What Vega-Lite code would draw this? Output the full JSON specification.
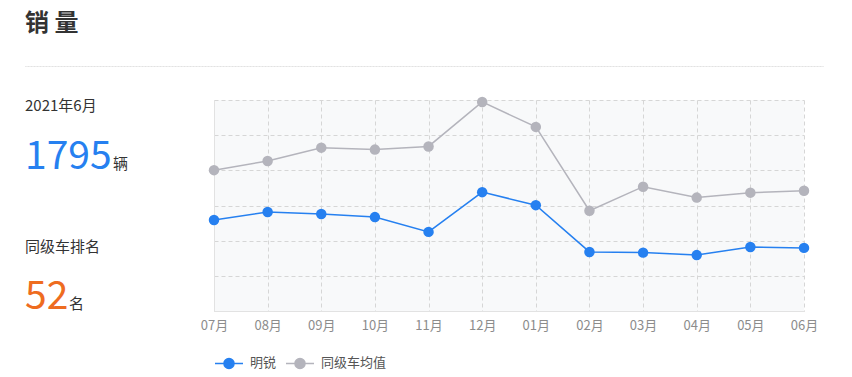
{
  "$schema": "https://vega.github.io/schema/vega-lite/v6.json",
  "padding": {"left": 24, "top": 11, "right": 20, "bottom": 4},
  "bounds": "flush",
  "spacing": 33,
  "config": {
    "font": "Noto Sans CJK SC",
    "view": {"stroke": null}
  },
  "vconcat": [
    {
      "title": {"text": "销 量", "anchor": "start", "frame": "group", "fontSize": 24, "fontWeight": "bold", "color": "#333333", "offset": 24, "font": "Noto Sans CJK SC"},
      "width": 798,
      "height": 0.01,
      "view": {"stroke": "#d8d8d8", "strokeDash": [1, 2]},
      "data": {"values": [{"t": ""}]},
      "mark": {"type": "text"},
      "encoding": {"text": {"field": "t"}}
    },
    {
      "bounds": "flush",
      "spacing": 39,
      "resolve": {"scale": {"color": "independent"}, "legend": {"color": "independent"}},
      "hconcat": [
        {
          "width": 150,
          "height": 211,
          "data": {"values": [
            {"row": "date", "kind": "label", "text": "2021年6月"},
            {"row": "sales", "kind": "salesNum", "text": "1795"},
            {"row": "sales", "kind": "salesUnit", "text": "辆"},
            {"row": "rankLabel", "kind": "label2", "text": "同级车排名"},
            {"row": "rank", "kind": "rankNum", "text": "52"},
            {"row": "rank", "kind": "rankUnit", "text": "名"}
          ]},
          "encoding": {
            "y": {"field": "row", "type": "nominal", "scale": {"type": "point", "padding": 0, "domain": ["date", "sales", "rankLabel", "rank"]}, "axis": null},
            "x": {"value": 0},
            "text": {"field": "text"}
          },
          "layer": [
            {"transform": [{"filter": "datum.kind === 'label'"}], "mark": {"type": "text", "align": "left", "baseline": "alphabetic", "fontSize": 15, "color": "#333333", "dy": 11}},
            {"transform": [{"filter": "datum.kind === 'label2'"}], "mark": {"type": "text", "align": "left", "baseline": "alphabetic", "fontSize": 15, "color": "#333333", "dy": 11}},
            {"transform": [{"filter": "datum.kind === 'salesNum'"}], "mark": {"type": "text", "align": "left", "baseline": "alphabetic", "fontSize": 39, "color": "#2680f0", "dy": -1}},
            {"transform": [{"filter": "datum.kind === 'salesUnit'"}], "mark": {"type": "text", "align": "left", "baseline": "alphabetic", "fontSize": 15, "color": "#333333", "dx": 88, "dy": -1}},
            {"transform": [{"filter": "datum.kind === 'rankNum'"}], "mark": {"type": "text", "align": "left", "baseline": "alphabetic", "fontSize": 39, "color": "#ee6c1f", "dy": -2}},
            {"transform": [{"filter": "datum.kind === 'rankUnit'"}], "mark": {"type": "text", "align": "left", "baseline": "alphabetic", "fontSize": 15, "color": "#333333", "dx": 44, "dy": -2}}
          ]
        },
        {
          "width": 590,
          "height": 211,
          "view": {"fill": "#f8f9fa", "stroke": null},
          "data": {"values": [
            {"month": "07月", "series": "明锐", "sales": 2590},
            {"month": "08月", "series": "明锐", "sales": 2815},
            {"month": "09月", "series": "明锐", "sales": 2760},
            {"month": "10月", "series": "明锐", "sales": 2670},
            {"month": "11月", "series": "明锐", "sales": 2250},
            {"month": "12月", "series": "明锐", "sales": 3380},
            {"month": "01月", "series": "明锐", "sales": 3010},
            {"month": "02月", "series": "明锐", "sales": 1680},
            {"month": "03月", "series": "明锐", "sales": 1660},
            {"month": "04月", "series": "明锐", "sales": 1590},
            {"month": "05月", "series": "明锐", "sales": 1820},
            {"month": "06月", "series": "明锐", "sales": 1795},
            {"month": "07月", "series": "同级车均值", "sales": 4005},
            {"month": "08月", "series": "同级车均值", "sales": 4265},
            {"month": "09月", "series": "同级车均值", "sales": 4645},
            {"month": "10月", "series": "同级车均值", "sales": 4590},
            {"month": "11月", "series": "同级车均值", "sales": 4680},
            {"month": "12月", "series": "同级车均值", "sales": 5945},
            {"month": "01月", "series": "同级车均值", "sales": 5235},
            {"month": "02月", "series": "同级车均值", "sales": 2850},
            {"month": "03月", "series": "同级车均值", "sales": 3535},
            {"month": "04月", "series": "同级车均值", "sales": 3225},
            {"month": "05月", "series": "同级车均值", "sales": 3365},
            {"month": "06月", "series": "同级车均值", "sales": 3420}
          ]},
          "encoding": {
            "x": {"field": "month", "type": "ordinal", "sort": null, "scale": {"type": "point", "padding": 0},
              "axis": {"title": null, "labelAngle": 0, "grid": true, "gridDash": [4, 3], "gridColor": "#d6d6d6", "domainColor": "#e2e2e2", "ticks": false, "labelColor": "#8c8c8c", "labelFontSize": 13, "labelPadding": 8}},
            "y": {"field": "sales", "type": "quantitative", "scale": {"domain": [0, 6000], "nice": false},
              "axis": {"title": null, "labels": false, "ticks": false, "values": [0, 1000, 2000, 3000, 4000, 5000, 6000], "grid": true, "gridDash": [4, 3], "gridColor": "#d6d6d6", "domainColor": "#e2e2e2"}},
            "color": {"field": "series", "type": "nominal",
              "scale": {"domain": ["明锐", "同级车均值"], "range": ["#2680f0", "#b4b4bc"]},
              "legend": {"title": null, "orient": "bottom", "direction": "horizontal", "offset": 16,
                "symbolType": "M-1,0L1,0M-0.36,0A0.36,0.36,0,1,1,0.36,0A0.36,0.36,0,1,1,-0.36,0Z",
                "symbolSize": 784, "symbolStrokeWidth": 1.5, "labelFontSize": 13, "labelColor": "#555555", "labelOffset": 6, "columnPadding": 6}}
          },
          "layer": [
            {"mark": {"type": "line", "strokeWidth": 1.5}},
            {"mark": {"type": "circle", "size": 110, "opacity": 1}}
          ]
        }
      ]
    }
  ]
}
